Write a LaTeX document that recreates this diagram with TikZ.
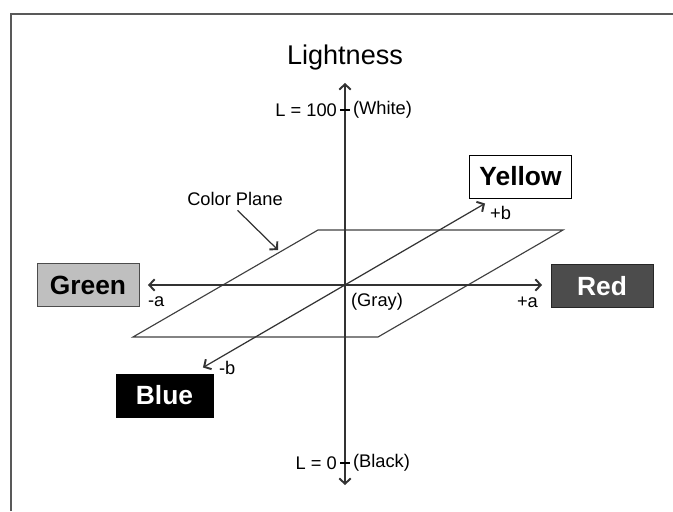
\documentclass[tikz,border=0pt]{standalone}
\usepackage{fontspec}
\setmainfont{Liberation Sans}
\usepackage{tikz}
\usetikzlibrary{arrows,arrows.meta}

\tikzset{
  colorbox/.style={draw, minimum width=2.04cm, minimum height=0.86cm, inner sep=0pt, font=\fontsize{15}{17}\selectfont\bfseries},
  smalltext/.style={font=\fontsize{10.4}{12}\selectfont, inner sep=1pt},
  axis/.style={line width=0.7pt, black!80, >={Straight Barb[length=3pt, width=6.5pt, line width=1.1pt]}}
}

\begin{document}
\begin{tikzpicture}
\useasboundingbox (-6.9,-4.52) rectangle (6.56,5.70);
% screenshot frame
\draw[line width=1.3pt, black!65] (-6.68,-4.52) |- (6.56,5.42);

\coordinate (gray) at (0,0);
\coordinate (ltop) at (0,4.04);
\coordinate (lbot) at (0,-4.0);
\coordinate (aneg) at (-3.94,0);
\coordinate (apos) at (3.94,0);
\coordinate (bneg) at (-2.84,-1.65);
\coordinate (bpos) at (2.80,1.63);

% color plane
\draw[black!75, line width=0.65pt] (-4.24,-1.04) -- (0.66,-1.04) -- (4.36,1.10) -- (-0.54,1.10) -- cycle;

% axes
\draw[axis, <->] (lbot) -- (ltop);
\draw[axis, <->] (aneg) -- (apos);
\draw[axis, <->] (bneg) -- (bpos);

\node[anchor=center, font=\fontsize{15.4}{17}\selectfont] (lightness) at (0,4.54)
{Lightness};

\draw[line width=0.6pt] (-0.1,3.5) -- (0.1,3.5);
\node[smalltext, anchor=east] (white) at (-0.12,3.5) {L = 100};
\node[smalltext, anchor=west] (whitelabel) at (0.12,3.5) {(White)};

\draw[line width=0.6pt] (-0.1,-3.56) -- (0.1,-3.56);
\node[smalltext, anchor=east] (black) at (-0.12,-3.56) {L = 0};
\node[smalltext, anchor=west] (blacklabel) at (0.12,-3.56) {(Black)};

\node[smalltext, anchor=center] (graylabel) at (0.64,-0.34) {(Gray)};

\node[colorbox, fill=black!25, draw=black!70] (green) at (-5.14,0) {Green};
\node[colorbox, fill=black!70, draw=black!85, text=white] (red) at (5.14,-0.02) {Red};
\node[colorbox, fill=white, draw=black] (yellow) at (3.51,2.17) {Yellow};
\node[colorbox, fill=black, text=white, minimum width=1.94cm] (blue) at (-3.61,-2.21) {Blue};

\node[smalltext, anchor=west] (ma) at (-3.98,-0.34) {-a};
\node[smalltext, anchor=east] (pa) at (3.9,-0.34) {+a};
\node[smalltext, anchor=west] (mb) at (-2.56,-1.66) {-b};
\node[smalltext, anchor=west] (pb) at (2.86,1.44) {+b};

\node[smalltext, anchor=center] (plane) at (-2.2,1.72) {Color Plane};
\coordinate (planetip) at (-1.34,0.70);
\draw[axis, ->, shorten <=2pt] (plane.south) -- (planetip);
\end{tikzpicture}
\end{document}
